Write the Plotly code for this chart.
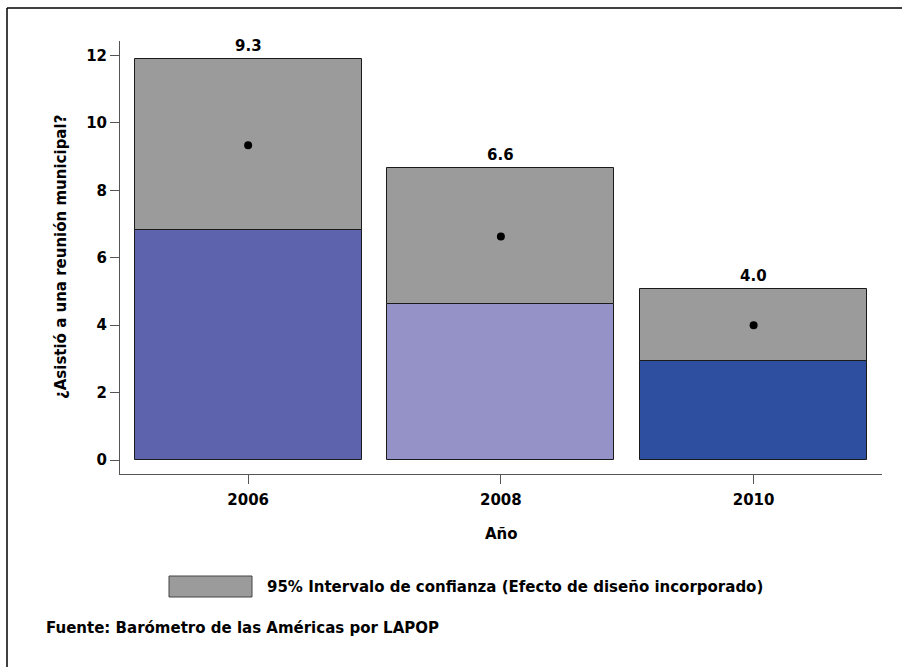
import plotly.graph_objects as go

years = ["2006", "2008", "2010"]
means = [9.34, 6.63, 4.0]
lower = [6.82, 4.63, 2.94]
upper = [11.89, 8.66, 5.07]
bar_colors = ["#5D63AD", "#9592C8", "#2E4E9F"]
ci_color = "#9B9B9B"
legend_label = "95% Intervalo de confianza (Efecto de diseño incorporado)"
source_note = "Fuente: Barómetro de las Américas por LAPOP"
y_title = "¿Asistió a una reunión municipal?"
x_title = "Año"
y_ticks = [0, 2, 4, 6, 8, 10, 12]

W, H = 902, 667
ML, MR, MT, MB = 120, 20, 41, 193
PW, PH = W - ML - MR, H - MT - MB

def px_x(p):
    return (p - ML) / PW

def px_y(p):
    return (H - MB - p) / PH

FONT = "DejaVu Sans, Verdana, sans-serif"
FS = 15
edge = dict(color="#1a1a1a", width=1)

fig = go.Figure()
xs = list(range(len(years)))
fig.add_trace(go.Bar(x=xs, y=lower, base=[0] * len(years), width=0.898,
                     marker=dict(color=bar_colors, line=edge), showlegend=False,
                     hoverinfo="skip"))
fig.add_trace(go.Bar(x=xs, y=[u - l for u, l in zip(upper, lower)], base=lower, width=0.898,
                     marker=dict(color=ci_color, line=edge), showlegend=False,
                     hoverinfo="skip"))
fig.add_trace(go.Scatter(x=xs, y=means, mode="markers",
                         marker=dict(color="black", size=8), showlegend=False))

for i, (m, u) in enumerate(zip(means, upper)):
    fig.add_annotation(x=i, y=u, text=f"<b>{m:.1f}</b>", showarrow=False,
                       yanchor="bottom", yshift=2, font=dict(size=FS, color="black"))

# frame (top and left edges only visible)
fig.add_shape(type="line", xref="paper", yref="paper",
              x0=px_x(7), x1=px_x(W), y0=px_y(8), y1=px_y(8),
              line=dict(color="black", width=1.5), layer="below")
fig.add_shape(type="line", xref="paper", yref="paper",
              x0=px_x(7), x1=px_x(7), y0=px_y(8), y1=px_y(H),
              line=dict(color="black", width=1.5), layer="below")
# legend box
fig.add_shape(type="rect", xref="paper", yref="paper",
              x0=px_x(169), x1=px_x(252), y0=px_y(597), y1=px_y(576),
              line=dict(color="#444", width=1), fillcolor=ci_color)
fig.add_annotation(xref="paper", yref="paper", x=px_x(265), y=px_y(587),
                   text=f"<b>{legend_label}</b>", showarrow=False,
                   xanchor="left", yanchor="middle", font=dict(size=FS, color="black"))
fig.add_annotation(xref="paper", yref="paper", x=px_x(44), y=px_y(628),
                   text=f"<b>{source_note}</b>", showarrow=False,
                   xanchor="left", yanchor="middle", font=dict(size=FS, color="black"))
fig.add_annotation(xref="paper", yref="paper", x=px_x(501), y=px_y(534),
                   text=f"<b>{x_title}</b>", showarrow=False,
                   xanchor="center", yanchor="middle", font=dict(size=FS, color="black"))
fig.add_annotation(xref="paper", yref="paper", x=px_x(61), y=px_y(257),
                   text=f"<b>{y_title}</b>", showarrow=False, textangle=-90,
                   xanchor="center", yanchor="middle", font=dict(size=FS, color="black"))

fig.update_layout(
    width=W, height=H,
    margin=dict(l=ML, r=MR, t=MT, b=MB),
    paper_bgcolor="white", plot_bgcolor="white",
    barmode="overlay", bargap=0,
    font=dict(family=FONT, size=FS, color="black"),
)
fig.update_xaxes(range=[-0.507, 2.508], tickmode="array", tickvals=xs,
                 ticktext=[f"<b>{y}</b>" for y in years],
                 showline=True, linecolor="#555", linewidth=1,
                 ticks="outside", ticklen=9, tickcolor="#555", ticklabelstandoff=3,
                 showgrid=False, zeroline=False, tickfont=dict(size=FS))
fig.update_yaxes(range=[-0.415, 12.43], tickmode="array",
                 tickvals=y_ticks,
                 ticktext=[f"<b>{v}</b>" for v in y_ticks],
                 showline=True, linecolor="#555", linewidth=1,
                 ticks="outside", ticklen=9, tickcolor="#555",
                 showgrid=False, zeroline=False, tickfont=dict(size=FS))

fig.write_html("out.html", config={"displayModeBar": False},
               post_script="document.body.style.margin='0';document.body.style.overflow='hidden';")
